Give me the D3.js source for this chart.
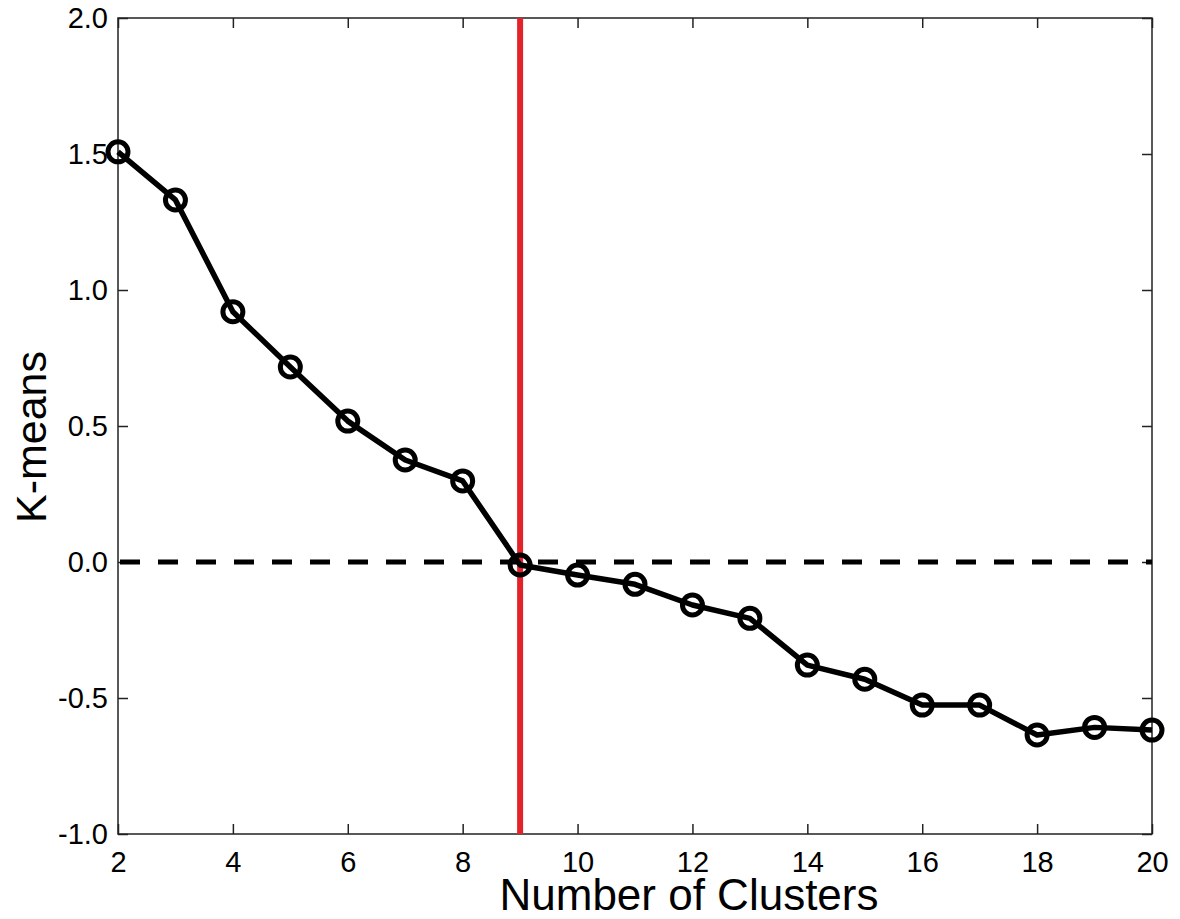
<!DOCTYPE html>
<html>
<head>
<meta charset="utf-8">
<script src="https://cdn.jsdelivr.net/npm/d3@7"></script>
<style>
  html, body { margin: 0; padding: 0; background: #fff; }
  svg { display: block; }
  text { font-family: "Liberation Sans", Arial, Helvetica, sans-serif; fill: #000; }
</style>
</head>
<body>
<svg id="chart" width="1180" height="919"></svg>
<script>
// Number of clusters evaluated and the K-means score for each
const clusters = [2, 3, 4, 5, 6, 7, 8, 9, 10, 11, 12, 13, 14, 15, 16, 17, 18, 19, 20];
const kmeans = [1.508, 1.331, 0.920, 0.717, 0.518, 0.375, 0.298, -0.011, -0.048, -0.082,
                -0.158, -0.207, -0.379, -0.431, -0.526, -0.526, -0.636, -0.608, -0.618];
const xTicks = [2, 4, 6, 8, 10, 12, 14, 16, 18, 20];
const yTicks = [-1.0, -0.5, 0.0, 0.5, 1.0, 1.5, 2.0];
const chosenK = 9;
const baseline = 0;

(function draw() {
  const svg = d3.select("#chart");
  const plotLeft = 118, plotRight = 1152, plotTop = 18, plotBottom = 834;

  const x = d3.scaleLinear().domain([2, 20]).range([plotLeft, plotRight]);
  const y = d3.scaleLinear().domain([-1, 2]).range([plotBottom, plotTop]);

  const axisColor = "#222";
  const tickLen = 10;

  // Axes with inward ticks on all four sides
  const gBottom = svg.append("g").attr("transform", `translate(0,${plotBottom})`)
    .call(d3.axisBottom(x).tickValues(xTicks).tickFormat(d3.format("d"))
      .tickSizeInner(-tickLen).tickSizeOuter(0).tickPadding(17));
  const gLeft = svg.append("g").attr("transform", `translate(${plotLeft},0)`)
    .call(d3.axisLeft(y).tickValues(yTicks).tickFormat(d => d3.format(".1f")(d).replace("\u2212", "-"))
      .tickSizeInner(-tickLen).tickSizeOuter(0).tickPadding(10));
  const gTop = svg.append("g").attr("transform", `translate(0,${plotTop})`)
    .call(d3.axisTop(x).tickValues(xTicks).tickFormat("")
      .tickSizeInner(-tickLen).tickSizeOuter(0));
  const gRight = svg.append("g").attr("transform", `translate(${plotRight},0)`)
    .call(d3.axisRight(y).tickValues(yTicks).tickFormat("")
      .tickSizeInner(-tickLen).tickSizeOuter(0));

  [gBottom, gLeft, gTop, gRight].forEach(g => {
    g.select(".domain").remove();
    g.selectAll(".tick line").attr("stroke", axisColor).attr("stroke-width", 1.5);
    g.selectAll(".tick text")
      .style("font-family", '"Liberation Sans", Arial, Helvetica, sans-serif')
      .style("font-size", "29px").attr("fill", "#000");
  });

  // Plot frame
  svg.append("rect")
    .attr("x", plotLeft).attr("y", plotTop)
    .attr("width", plotRight - plotLeft).attr("height", plotBottom - plotTop)
    .attr("fill", "none").attr("stroke", axisColor).attr("stroke-width", 1.5);

  // Zero reference line
  svg.append("line")
    .attr("x1", x(2) + 2).attr("x2", x(20))
    .attr("y1", y(baseline)).attr("y2", y(baseline))
    .attr("stroke", "#000").attr("stroke-width", 5)
    .attr("stroke-dasharray", "20,18");

  // Selected number of clusters
  svg.append("line")
    .attr("x1", x(chosenK)).attr("x2", x(chosenK))
    .attr("y1", y(2)).attr("y2", y(-1))
    .attr("stroke", "#e3232a").attr("stroke-width", 6);

  // Score curve
  const data = clusters.map((c, i) => ({ c, v: kmeans[i] }));
  svg.append("path")
    .datum(data)
    .attr("fill", "none").attr("stroke", "#000").attr("stroke-width", 5.5)
    .attr("stroke-linejoin", "round")
    .attr("d", d3.line().x(d => x(d.c)).y(d => y(d.v)));

  svg.append("g").selectAll("circle")
    .data(data).join("circle")
    .attr("cx", d => x(d.c)).attr("cy", d => y(d.v))
    .attr("r", 10)
    .attr("fill", "none").attr("stroke", "#000").attr("stroke-width", 5);

  // Axis titles
  svg.append("text")
    .attr("x", 689).attr("y", 910)
    .attr("text-anchor", "middle")
    .style("font-size", "44px")
    .text("Number of Clusters");

  svg.append("text")
    .attr("transform", "translate(46,437) rotate(-90)")
    .attr("text-anchor", "middle")
    .style("font-size", "43px")
    .text("K-means");
})();
</script>
</body>
</html>
